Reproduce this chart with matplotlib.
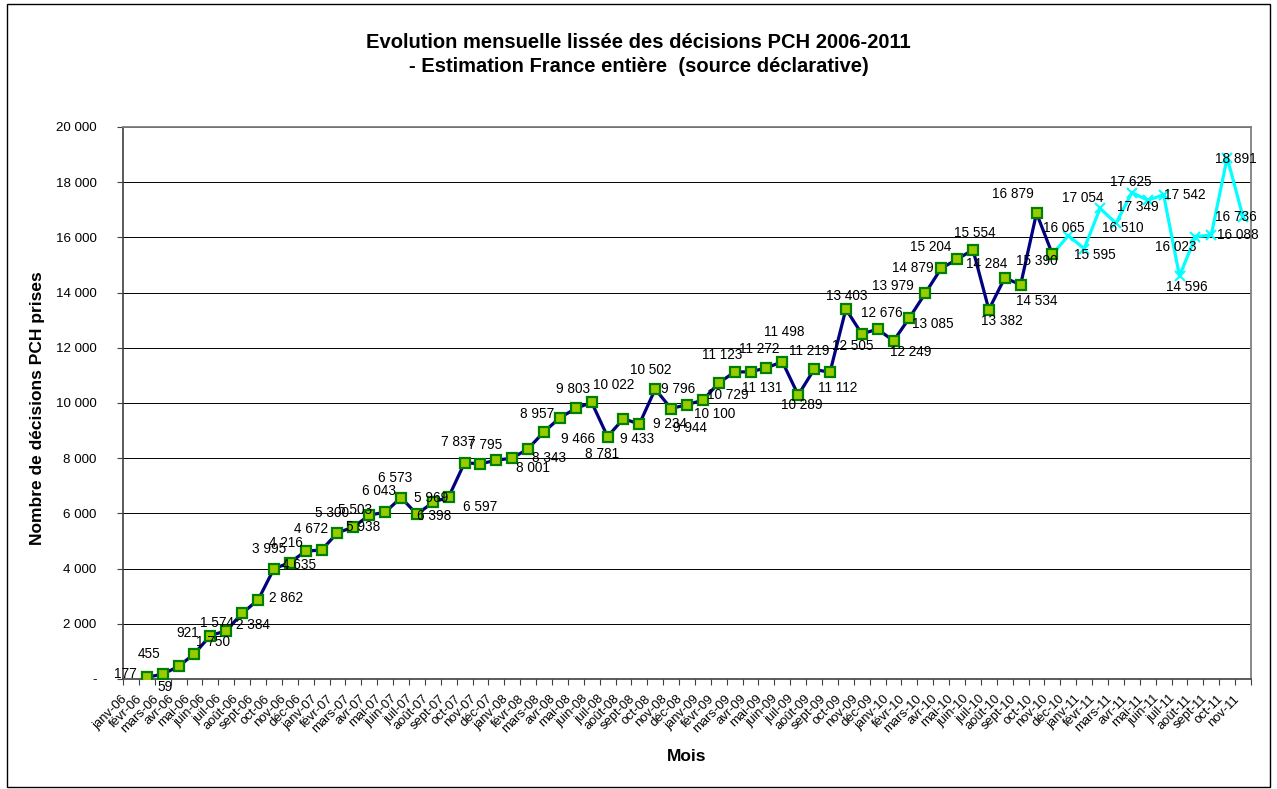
import numpy as np
import matplotlib.pyplot as plt
import matplotlib.transforms as mtransforms
from matplotlib.patches import Rectangle
from matplotlib.ticker import FuncFormatter

plt.rcParams['font.family'] = ['Liberation Sans', 'DejaVu Sans']

# Categories: months janv-06 .. nov-11
noms_mois = ['janv', 'févr', 'mars', 'avr', 'mai', 'juin',
             'juil', 'août', 'sept', 'oct', 'nov', 'déc']
mois = [f"{m}-{a:02d}" for a in range(6, 12) for m in noms_mois][:71]

# Smoothed decisions (dark series), janv-06 .. nov-10 (janv-06 empty)
decisions = [np.nan, 59, 177, 455, 921, 1574, 1750, 2384, 2862, 3995,
             4216, 4635, 4672, 5300, 5503, 5938, 6043, 6573, 5969, 6398,
             6597, 7837, 7795, 7930, 8001, 8343, 8957, 9466, 9803, 10022,
             8781, 9433, 9234, 10502, 9796, 9944, 10100, 10729, 11123, 11131,
             11272, 11498, 10289, 11219, 11112, 13403, 12505, 12676, 12249, 13085,
             13979, 14879, 15204, 15554, 13382, 14534, 14284, 16879, 15390]

# Second series (cyan), nov-10 .. nov-11
decisions_2011 = [15390, 16065, 15595, 17054, 16510, 17625, 17349,
                  17542, 14596, 16023, 16088, 18891, 16736]
debut_2011 = 58

# Data label offsets in pixels (dx, dy down); None = no label
decal_labels = [None, (18, 10), (-37, 0), (-29, -12), (-7, -21), (7, -13), (-13, 11),
                (11, 12), (28, -2), (-5, -20), (-4, -20), (-7, 14), (-11, -21),
                (-5, -20), (2, -17), (-6, 12), (-6, -21), (-6, -20), (14, -16),
                (1, 14), (31, 10), (-6, -21), (5, -19), None, (21, 10), (21, 9),
                (-7, -18), (18, 21), (-3, -19), (22, -17), (-6, 17), (14, 20),
                (31, 0), (-5, -19), (7, -20), (3, 23), (12, 14), (9, 12),
                (-12, -17), (12, 16), (-7, -19), (2, -30), (4, 10), (-5, -18),
                (8, 16), (1, -13), (-9, 12), (4, -16), (17, 11), (23, 6),
                (-32, -7), (-28, 0), (-26, -12), (2, -17), (13, 11), (32, 23),
                (-34, -21), (-24, -19), (-16, 7)]
decal_labels_2011 = [None, (-4, -8), (11, 6), (-17, -10), (7, 5), (-1, -11),
                     (-10, 7), (21, 0), (7, 11), (-20, 10), (27, 0), (9, 1), (-7, 0)]


def fr(v, pos=None):
    if v == 0:
        return '-'
    return f"{v:,.0f}".replace(',', ' ')


fig = plt.figure(figsize=(12.77, 7.89), dpi=100)
ax = fig.add_axes([123 / 1277, 1 - 679 / 789, 1128 / 1277, 552 / 789])

x1 = np.arange(len(decisions))
x2 = np.arange(debut_2011, debut_2011 + len(decisions_2011))

ax.plot(x2, decisions_2011, color='#00FFFF', lw=2.3, marker='x', ms=7, mew=1.5,
        markevery=list(range(1, len(decisions_2011))), zorder=3)
ax.plot(x1, decisions, color='#000080', lw=2.3, marker='s', ms=7,
        mfc='#99CC00', mec='#008000', mew=1.6, zorder=4)

for xs, vals, decs in [(x1, decisions, decal_labels), (x2, decisions_2011, decal_labels_2011)]:
    for xi, v, d in zip(xs, vals, decs):
        if d is None or np.isnan(v):
            continue
        ax.annotate(fr(v), (xi, v), xytext=(d[0], -d[1]), textcoords='offset pixels',
                    ha='center', va='center', fontsize=9.8, color='black', zorder=5)

ax.set_xlim(-0.5, len(mois) - 0.5)
ax.set_ylim(0, 20000)
ax.set_yticks(np.arange(0, 20001, 2000))
ax.yaxis.set_major_formatter(FuncFormatter(fr))
ax.yaxis.grid(True, color='black', lw=0.7)
ax.set_axisbelow(True)

# x ticks between categories, labels at category centers
ax.set_xticks(np.arange(-0.5, len(mois), 1))
ax.set_xticklabels([])
ax.set_xticks(np.arange(len(mois)), minor=True)
ax.set_xticklabels(mois, minor=True, rotation=45, ha='right', va='center',
                   rotation_mode='anchor', fontsize=9.4)
ax.tick_params(axis='x', which='major', length=4, direction='out', color='#404040')
ax.tick_params(axis='x', which='minor', length=0, pad=13)
ax.tick_params(axis='y', length=4, direction='out', pad=15, labelsize=9.6, color='#404040')
decal = mtransforms.ScaledTranslation(-6 / 100, 0, fig.dpi_scale_trans)
for lab in ax.get_xticklabels(minor=True):
    lab.set_transform(lab.get_transform() + decal)

for s in ['left', 'bottom']:
    ax.spines[s].set_color('#404040')
    ax.spines[s].set_linewidth(1.2)
for s in ['top', 'right']:
    ax.spines[s].set_color('#808080')
    ax.spines[s].set_linewidth(1.3)

ax.set_xlabel('Mois', fontsize=12.5, fontweight='bold')
ax.xaxis.set_label_coords(0.5, -0.126)
ax.set_ylabel('Nombre de décisions PCH prises', fontsize=12.5, fontweight='bold')
ax.yaxis.set_label_coords(-0.069, 0.49)

fig.text(0.5, 1 - 42 / 789, 'Evolution mensuelle lissée des décisions PCH 2006-2011',
         ha='center', va='center', fontsize=14.5, fontweight='bold')
fig.text(0.5, 1 - 67 / 789, '- Estimation France entière  (source déclarative)',
         ha='center', va='center', fontsize=14.5, fontweight='bold')

fig.patches.append(Rectangle((7 / 1277, 2 / 789), 1263 / 1277, 783 / 789,
                             transform=fig.transFigure, fill=False,
                             edgecolor='black', lw=1))

fig.savefig('out.png', dpi=100)
